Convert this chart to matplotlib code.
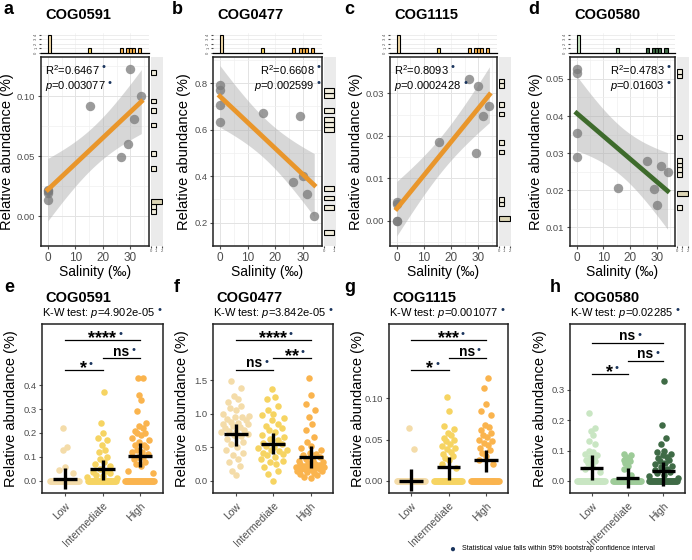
import matplotlib
matplotlib.use("Agg")
import matplotlib.pyplot as plt
import numpy as np

plt.rcParams["font.family"] = ["Liberation Sans", "DejaVu Sans"]
plt.rcParams["mathtext.fontset"] = "custom"
plt.rcParams["mathtext.rm"] = "Liberation Sans"
plt.rcParams["mathtext.it"] = "Liberation Sans:italic"
plt.rcParams["mathtext.bf"] = "Liberation Sans:bold"

# ---- top row: salinity regressions ----
salinity = [0, 0, 0, 0, 15.5, 26.5, 29, 30, 31.5, 34]
ra_cog0591 = [0.022, 0.021, 0.019, 0.013, 0.092, 0.049, 0.060, 0.123, 0.081, 0.100]
ra_cog0477 = [0.792, 0.772, 0.704, 0.634, 0.670, 0.376, 0.660, 0.402, 0.323, 0.229]
ra_cog1115 = [0.0045, 0.0038, 0.0, 0.0, 0.0185, 0.0335, 0.016, 0.0318, 0.0247, 0.027]
ra_cog0580 = [0.0528, 0.0515, 0.0355, 0.029, 0.0206, 0.0278, 0.0204, 0.016, 0.0265, 0.025]

genes = ["COG0591", "COG0477", "COG1115", "COG0580"]
r2_text = ["0.6467", "0.6608", "0.8093", "0.4783"]
p_text = ["0.003077", "0.002599", "0.0002428", "0.01603"]
top_ylim = [(-0.0115, 0.1327), (0.185, 0.912), (-0.006, 0.0386), (0.0065, 0.0559)]
top_yticks = [[0, 0.05, 0.10], [0.2, 0.4, 0.6, 0.8], [0, 0.01, 0.02, 0.03],
              [0.01, 0.02, 0.03, 0.04, 0.05]]
top_ylabels = [["0.00", "0.05", "0.10"], ["0.2", "0.4", "0.6", "0.8"],
               ["0.00", "0.01", "0.02", "0.03"], ["0.01", "0.02", "0.03", "0.04", "0.05"]]

# ---- bottom row: salinity groups ----
groups = ["Low", "Intermediate", "High"]
zeros = [0.0] * 30

e_low = zeros + [0.03, 0.045, 0.055, 0.13, 0.14, 0.22]
e_mid = zeros + [0.01, 0.015, 0.02, 0.025, 0.03, 0.035, 0.04, 0.05, 0.06, 0.07, 0.08,
                 0.09, 0.1, 0.12, 0.13, 0.15, 0.17, 0.18, 0.2, 0.24, 0.37]
e_high = zeros + [0.03, 0.04, 0.06, 0.07, 0.08, 0.09, 0.1, 0.1, 0.11, 0.12, 0.12, 0.13,
                  0.14, 0.15, 0.15, 0.16, 0.17, 0.18, 0.19, 0.2, 0.2, 0.21, 0.22, 0.23,
                  0.24, 0.29, 0.34, 0.36, 0.43, 0.43]

f_low = [1.49, 1.38, 1.27, 1.22, 1.18, 1.12, 1.08, 1.05, 1.0, 0.97, 0.95, 0.95, 0.92,
         0.9, 0.88, 0.86, 0.85, 0.84, 0.82, 0.8, 0.78, 0.76, 0.74, 0.72, 0.72, 0.7,
         0.68, 0.66, 0.62, 0.58, 0.55, 0.5, 0.46, 0.42, 0.38, 0.32, 0.28, 0.22, 0.15, 0.08]
f_mid = [1.37, 1.25, 1.22, 1.12, 1.05, 1.0, 0.98, 0.93, 0.9, 0.85, 0.82, 0.78, 0.75,
         0.72, 0.68, 0.65, 0.62, 0.6, 0.56, 0.55, 0.52, 0.5, 0.48, 0.46, 0.45, 0.44,
         0.42, 0.4, 0.38, 0.35, 0.32, 0.3, 0.28, 0.25, 0.2, 0.15, 0.1, 0.0]
f_high = [1.54, 1.28, 1.15, 1.05, 0.95, 0.85, 0.75, 0.65, 0.58, 0.52, 0.48, 0.45, 0.42,
          0.4, 0.38, 0.35, 0.32, 0.3, 0.3, 0.28, 0.26, 0.25, 0.25, 0.24, 0.22, 0.22,
          0.21, 0.2, 0.2, 0.19, 0.18, 0.18, 0.17, 0.16, 0.15, 0.14, 0.13, 0.12, 0.1,
          0.08, 0.06, 0.04]

g_low = zeros + [0.038, 0.064]
g_mid = zeros + [0.015, 0.02, 0.025, 0.028, 0.03, 0.032, 0.035, 0.038, 0.04, 0.042,
                 0.045, 0.048, 0.05, 0.052, 0.055, 0.058, 0.063, 0.067, 0.085, 0.102]
g_high = zeros + [0.02, 0.025, 0.03, 0.034, 0.037, 0.04, 0.044, 0.046, 0.048, 0.05,
                  0.053, 0.055, 0.058, 0.062, 0.065, 0.068, 0.08, 0.085, 0.093, 0.113, 0.125]

h_low = zeros + [0.03, 0.04, 0.05, 0.06, 0.065, 0.07, 0.075, 0.08, 0.085, 0.09, 0.095,
                 0.1, 0.12, 0.13, 0.15, 0.165, 0.175, 0.225]
h_mid = zeros + [0.02, 0.04, 0.05, 0.06, 0.065, 0.07, 0.075, 0.08, 0.085, 0.09]
h_high = zeros + [0.01, 0.015, 0.02, 0.025, 0.03, 0.035, 0.04, 0.045, 0.05, 0.055,
                  0.06, 0.065, 0.07, 0.075, 0.08, 0.085, 0.09, 0.095, 0.1, 0.12, 0.14,
                  0.185, 0.33]

# mean and interval of the black crosses
cross_mid = [[0.007, 0.048, 0.105], [0.70, 0.55, 0.35], [0.0, 0.0164, 0.025], [0.044, 0.008, 0.033]]
cross_lo = [[-0.036, 0.003, 0.059], [0.51, 0.40, 0.19], [-0.013, 0.001, 0.011], [0.002, -0.025, -0.016]]
cross_hi = [[0.052, 0.087, 0.158], [0.84, 0.71, 0.51], [0.014, 0.029, 0.0376], [0.084, 0.042, 0.062]]

kw_text = ["4.902e-05", "3.842e-05", "0.001077", "0.02285"]
sig_text = [["*", "ns", "****"], ["ns", "**", "****"], ["*", "ns", "***"], ["*", "ns", "ns"]]
sig_y = [[0.464, 0.513, 0.59], [1.654, 1.83, 2.105], [0.1346, 0.149, 0.1714], [0.352, 0.396, 0.456]]
sig_pairs = [(1, 2), (2, 3), (1, 3)]
bot_ylim = [(-0.052, 0.657), (-0.185, 2.34), (-0.015, 0.1906), (-0.04, 0.517)]
bot_yticks = [[0, 0.1, 0.2, 0.3, 0.4], [0, 0.5, 1.0, 1.5], [0, 0.05, 0.10], [0, 0.1, 0.2, 0.3]]
bot_ylabels = [["0.0", "0.1", "0.2", "0.3", "0.4"], ["0.0", "0.5", "1.0", "1.5"],
               ["0.00", "0.05", "0.10"], ["0.0", "0.1", "0.2", "0.3"]]

top_data = [ra_cog0591, ra_cog0477, ra_cog1115, ra_cog0580]
bot_data = [[e_low, e_mid, e_high], [f_low, f_mid, f_high],
            [g_low, g_mid, g_high], [h_low, h_mid, h_high]]

YELLOWS = ["#F4DCA9", "#F6D462", "#FAB44E"]
GREENS = ["#C9E6C3", "#9DCB98", "#3F6B46"]
palettes = [YELLOWS, YELLOWS, YELLOWS, GREENS]
line_colors = ["#E9962B", "#E9962B", "#E9962B", "#3E6B2C"]
NAVY = "#1B355E"
GREY_TXT = "#4D4D4D"

W, H = 692, 560


def rect(l, t, r, b):
    return [l / W, 1 - b / H, (r - l) / W, (b - t) / H]


def vdc(n):
    out = np.zeros(n)
    for i in range(n):
        k, f, r = i + 1, 1.0, 0.0
        while k > 0:
            f /= 2
            r += f * (k % 2)
            k //= 2
        out[i] = r
    return out


def quasi(vals, width=0.42):
    v = np.asarray(vals, float)
    bw = (v.max() - v.min()) * 0.08 + 1e-12
    d = np.exp(-0.5 * ((v[:, None] - v[None, :]) / bw) ** 2).sum(1)
    d = np.sqrt(d / d.max())
    order = np.argsort(v, kind="stable")
    off = np.empty(len(v))
    off[order] = (vdc(len(v)) * 2 - 1) * width * d[order]
    return off


def dot_after(ax, txt, fs=8, dy=0.7):
    ax.annotate("\u2022", xy=(1, dy), xycoords=txt, xytext=(1.2, 0),
                textcoords="offset points", ha="left", va="center",
                color=NAVY, fontsize=fs, annotation_clip=False)


fig = plt.figure(figsize=(W / 100, H / 100), dpi=100)

top_x = [(41, 149), (213, 322), (390, 497), (570, 675)]
letters_top = [(4, "a"), (172, "b"), (344, "c"), (528, "d")]
sal = np.asarray(salinity, float)
t975 = 2.306  # t quantile, df = 8

for i in range(4):
    l, r = top_x[i]
    ax = fig.add_axes(rect(l, 57, r, 246))
    y = np.asarray(top_data[i], float)
    # regression + 95% band
    slope, icpt = np.polyfit(sal, y, 1)
    xs = np.linspace(sal.min(), sal.max(), 100)
    fit = icpt + slope * xs
    resid = y - (icpt + slope * sal)
    s = np.sqrt((resid ** 2).sum() / (len(y) - 2))
    se = s * np.sqrt(1 / len(y) + (xs - sal.mean()) ** 2 / ((sal - sal.mean()) ** 2).sum())
    ax.fill_between(xs, fit - t975 * se, fit + t975 * se, color="#B0B0B0", alpha=0.5,
                    lw=0, zorder=2)
    ax.scatter(sal, y, s=46, color="#7A7A7A", alpha=0.75, lw=0, zorder=3)
    ax.plot(xs, fit, color=line_colors[i], lw=3.4, zorder=4)
    ax.set_xlim(-2.5, 36.8)
    ax.set_ylim(*top_ylim[i])
    ax.set_xticks([0, 10, 20, 30])
    ax.set_xticks([5, 15, 25, 35], minor=True)
    ax.set_yticks(top_yticks[i])
    ax.set_yticklabels(top_ylabels[i])
    yt = top_yticks[i]
    step = yt[1] - yt[0]
    ax.set_yticks([v + step / 2 for v in [yt[0] - step] + yt], minor=True)
    ax.grid(True, which="major", color="#E3E3E3", lw=0.7)
    ax.grid(True, which="minor", color="#F0F0F0", lw=0.5)
    ax.set_axisbelow(True)
    ax.tick_params(axis="x", labelsize=8.5, colors=GREY_TXT, length=2.5, pad=1.5)
    ax.tick_params(axis="y", labelsize=6.8, colors=GREY_TXT, length=2.5, pad=1.5)
    ax.tick_params(which="minor", length=0)
    for sp in ax.spines.values():
        sp.set_color("#222222")
        sp.set_linewidth(1.1)
    ax.set_xlabel("Salinity (\u2030)", fontsize=10, labelpad=1)
    ax.set_ylabel("Relative abundance (%)", fontsize=10.5, labelpad=2)
    if i in (0, 2):
        tx, ha = 0.04, "left"
    else:
        tx, ha = (0.935 if i == 1 else 0.9), "right"
    t1 = ax.text(tx, 0.93, "R$^2$=" + r2_text[i], transform=ax.transAxes, ha=ha,
                 va="center", fontsize=8)
    t2 = ax.text(tx, 0.845, "$p$=" + p_text[i], transform=ax.transAxes, ha=ha,
                 va="center", fontsize=8)
    dot_after(ax, t1)
    dot_after(ax, t2)

    # top marginal histogram of salinity
    axt = fig.add_axes(rect(l, 33, r, 53))
    cnt, edges = np.histogram(sal, bins=30)
    centers = (edges[:-1] + edges[1:]) / 2
    cols = [palettes[i][0] if c < 10 else (palettes[i][1] if c < 25 else palettes[i][2])
            for c in centers]
    keep = cnt > 0
    axt.bar(centers[keep], cnt[keep], width=edges[1] - edges[0],
            color=np.array(cols)[keep], edgecolor="black", lw=0.8, zorder=3)
    axt.set_xlim(-2.5, 36.8)
    axt.set_ylim(0, 4.4)
    axt.set_yticks([0, 1, 2, 3, 4])
    axt.grid(True, axis="y", color="#E6E6E6", lw=0.5)
    axt.grid(True, axis="x", color="#F0F0F0", lw=0.5)
    axt.set_xticks([0, 10, 20, 30])
    axt.tick_params(axis="x", length=0, labelbottom=False)
    axt.tick_params(axis="y", labelsize=3, length=1.5, pad=0.5, colors=GREY_TXT,
                    labelrotation=90)
    for k in ("top", "right", "left"):
        axt.spines[k].set_visible(False)
    axt.spines["bottom"].set_linewidth(0.9)

    # right marginal histogram of abundance
    axr = fig.add_axes(rect(r + 2, 57, r + 14, 246))
    cnt, edges = np.histogram(y, bins=30)
    centers = (edges[:-1] + edges[1:]) / 2
    keep = cnt > 0
    axr.barh(centers[keep], cnt[keep], height=edges[1] - edges[0],
             color=["#DCD5B5" if c > 1 else "#F1EDDC" for c in cnt[keep]],
             edgecolor="black", lw=0.8)
    axr.set_ylim(*top_ylim[i])
    axr.set_xlim(0, cnt.max() + 0.25)
    axr.set_facecolor("#EBEBEB")
    axr.set_xticks(range(cnt.max() + 1))
    axr.set_yticks([])
    axr.tick_params(axis="x", labelsize=3, length=1.5, pad=0.5, colors=GREY_TXT)
    for sp in axr.spines.values():
        sp.set_visible(False)

    fig.text((l + 4) / W, 1 - 15 / H, genes[i],
             fontsize=10.5, fontweight="bold", ha="left", va="center")
    fig.text(letters_top[i][0] / W, 1 - 10 / H, letters_top[i][1], fontsize=13,
             fontweight="bold", ha="left", va="center")

bot_x = [(42, 163), (213, 333), (389, 508), (570, 685)]
letters_bot = [(4, "e"), (174, "f"), (344, "g"), (550, "h")]

for i in range(4):
    l, r = bot_x[i]
    ax = fig.add_axes(rect(l, 324, r, 493))
    for j, vals in enumerate(bot_data[i]):
        xs = (j + 1) + quasi(vals)
        ax.scatter(xs, vals, s=22, color=palettes[i][j], lw=0, zorder=2)
    pos = np.arange(1, 4)
    ax.hlines(cross_mid[i], pos - 0.32, pos + 0.32, color="black", lw=2.4, zorder=4)
    ax.vlines(pos, cross_lo[i], cross_hi[i], color="black", lw=2.4, zorder=4)
    span = bot_ylim[i][1] - bot_ylim[i][0]
    for (g1, g2), yv, lab in zip(sig_pairs, sig_y[i], sig_text[i]):
        ax.plot([g1, g2], [yv, yv], color="black", lw=0.9)
        if "*" in lab:
            t = ax.text((g1 + g2) / 2, yv - span * 0.018, lab, ha="center",
                        va="baseline", fontsize=13, fontweight="bold")
            dot_after(ax, t, dy=0.75)
        else:
            t = ax.text((g1 + g2) / 2, yv + span * 0.015, lab, ha="center",
                        va="baseline", fontsize=10, fontweight="bold")
            dot_after(ax, t, dy=0.6)
    ax.set_xlim(0.4, 3.6)
    ax.set_ylim(*bot_ylim[i])
    ax.set_xticks(pos)
    ax.set_xticklabels(groups, rotation=45, ha="right", rotation_mode="anchor")
    ax.set_yticks(bot_yticks[i])
    ax.set_yticklabels(bot_ylabels[i])
    ax.tick_params(labelsize=6.8, colors=GREY_TXT, length=2.5, pad=1.5)
    ax.tick_params(axis="x", labelsize=7.5, pad=3)
    for sp in ax.spines.values():
        sp.set_color("#222222")
        sp.set_linewidth(1.1)
    ax.set_ylabel("Relative abundance (%)", fontsize=10.5, labelpad=2)
    ax.yaxis.set_label_coords(-0.2, 0.5)

    fig.text((l + 3) / W, 1 - 298 / H, genes[i], fontsize=10.5, fontweight="bold",
             ha="left", va="center")
    kt = fig.text(l / W, 1 - 313 / H, "K-W test: $p$=" + kw_text[i], fontsize=8,
                  ha="left", va="center")
    fig.canvas.draw()
    bb = kt.get_window_extent()
    fig.text((bb.x1 + 2) / W, (bb.y0 + bb.height * 0.7) / H, "\u2022", color=NAVY,
             fontsize=8, ha="left", va="center")
    fig.text(letters_bot[i][0] / W, 1 - 288 / H, letters_bot[i][1], fontsize=13,
             fontweight="bold", ha="left", va="center")

fig.text(452 / W, 1 - 549 / H, "\u25CF", color=NAVY, fontsize=7, ha="center", va="center")
fig.text(462 / W, 1 - 549 / H, "Statistical value falls within 95% bootstrap confidence interval",
         fontsize=5, ha="left", va="center")

fig.savefig("out.png", dpi=100)
